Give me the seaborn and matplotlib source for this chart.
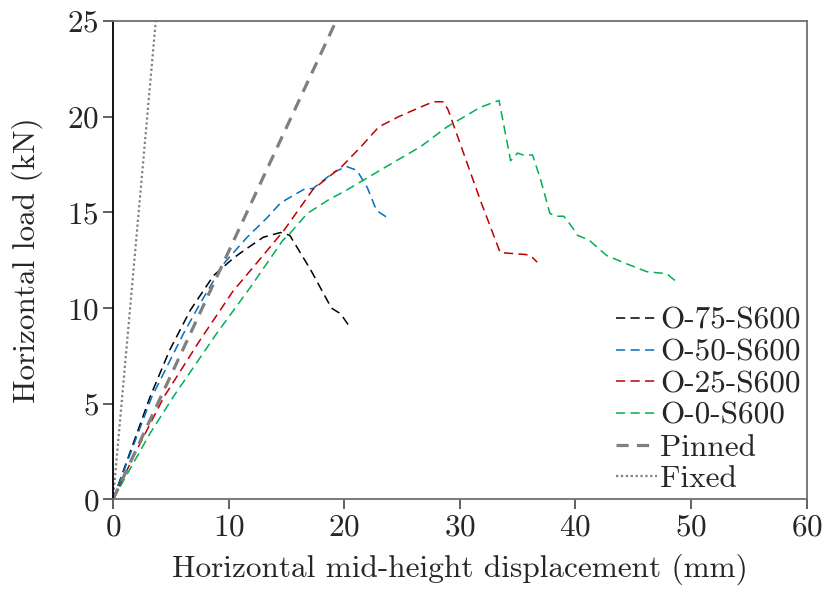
import matplotlib
matplotlib.use("Agg")
import matplotlib.pyplot as plt
import seaborn as sns
import pandas as pd

# ---- data ----
o75_x = [0, 3.2, 4.9, 6.7, 8.7, 10.4, 11.3, 13.0, 14.5, 15.3, 17.1, 18.9, 19.7, 20.5]
o75_y = [0, 5.35, 7.8, 9.9, 11.7, 12.6, 13.0, 13.7, 13.95, 13.8, 12.0, 10.0, 9.7, 9.0]

o50_x = [0, 3.35, 6.1, 7.5, 9.55, 11.6, 13.3, 14.5, 16.5, 17.3, 19.1, 20.2, 21.1, 22.0, 22.8, 23.8]
o50_y = [0, 5.35, 8.67, 10.2, 12.3, 13.7, 14.7, 15.5, 16.2, 16.25, 17.1, 17.4, 17.2, 16.3, 15.1, 14.7]

o25_x = [0, 1.9, 4.4, 7.5, 10.4, 12.15, 14.8, 17.3, 19.8, 21.4, 23.0, 24.7, 26.6, 27.7, 28.6,
         29.0, 31.8, 33.5, 35.7, 36.1, 36.7]
o25_y = [0, 2.4, 5.35, 8.3, 10.9, 12.15, 14.07, 16.2, 17.4, 18.4, 19.47, 20.0, 20.5, 20.78, 20.78,
         20.35, 15.6, 12.9, 12.8, 12.75, 12.4]

o0_x = [0, 3.2, 5.2, 9.0, 11.9, 14.7, 15.3, 16.8, 18.6, 20.2, 21.7, 24.6, 26.6, 28.9, 31.8, 33.4,
        34.4, 35.0, 35.5, 36.3, 37.0, 37.8, 38.3, 39.0, 39.7, 40.2, 41.2, 42.7, 43.3, 44.5, 46.2, 47.9, 48.9]
o0_y = [0, 3.45, 5.35, 8.7, 11.1, 13.55, 13.9, 14.94, 15.64, 16.16, 16.7, 17.73, 18.43, 19.47, 20.5, 20.85,
        17.7, 18.1, 18.0, 18.0, 16.7, 14.95, 14.8, 14.8, 14.25, 13.8, 13.55, 12.75, 12.6, 12.3, 11.9, 11.8, 11.3]

pinned_x = [0, 19.3]
pinned_y = [0, 25]

fixed_x = [0, 3.7]
fixed_y = [0, 25]

labels = ["O-75-S600", "O-50-S600", "O-25-S600", "O-0-S600", "Pinned", "Fixed"]

series = [(o75_x, o75_y), (o50_x, o50_y), (o25_x, o25_y), (o0_x, o0_y),
          (pinned_x, pinned_y), (fixed_x, fixed_y)]

frames = []
for lab, (xs, ys) in zip(labels, series):
    frames.append(pd.DataFrame({"x": xs, "y": ys, "series": lab, "order": range(len(xs))}))
df = pd.concat(frames, ignore_index=True)

# ---- styles ----
colors = {"O-75-S600": "#000000", "O-50-S600": "#0070c0", "O-25-S600": "#c00000",
          "O-0-S600": "#00b050", "Pinned": "#808080", "Fixed": "#808080"}
widths = {"O-75-S600": 1.1, "O-50-S600": 1.1, "O-25-S600": 1.1, "O-0-S600": 1.1,
          "Pinned": 2.3, "Fixed": 1.6}
styles = {"O-75-S600": (0, (6, 3.5)), "O-50-S600": (0, (6, 3.5)), "O-25-S600": (0, (6, 3.5)),
          "O-0-S600": (0, (6, 3.5)), "Pinned": (0, (3.8, 2.6)), "Fixed": (0, (1, 1.2))}

sns.set_theme(style="ticks")
plt.rcParams["font.family"] = ["cmr10", "DejaVu Serif"]
plt.rcParams["mathtext.fontset"] = "cm"
plt.rcParams["axes.formatter.use_mathtext"] = True
plt.rcParams["axes.unicode_minus"] = False

fig = plt.figure(figsize=(8.26, 5.89), dpi=100)
ax = fig.add_axes([0.1368, 0.152, 0.8396, 0.8123])

for lab in labels:
    sub = df[df["series"] == lab]
    sns.lineplot(data=sub, x="x", y="y", sort=False, estimator=None, ax=ax,
                 color=colors[lab], linewidth=widths[lab], linestyle=styles[lab], label=lab)

FS = 22.5
ax.set_xlim(0, 60)
ax.set_ylim(0, 25)
ax.set_xticks([0, 10, 20, 30, 40, 50, 60])
ax.set_yticks([0, 5, 10, 15, 20, 25])
ax.set_xlabel("Horizontal mid-height displacement (mm)", fontsize=FS, labelpad=9)
ax.set_ylabel("Horizontal load (kN)", fontsize=FS, labelpad=17)
ax.tick_params(axis="both", which="major", labelsize=FS, direction="out", length=7, width=1.3,
               color="#555555", left=True, bottom=True, pad=3)

for side in ["top", "right", "bottom"]:
    ax.spines[side].set_visible(True)
    ax.spines[side].set_color("#707070")
    ax.spines[side].set_linewidth(1.3)
ax.spines["left"].set_color("#000000")
ax.spines["left"].set_linewidth(1.3)

leg = ax.legend(loc="lower right", frameon=False, fontsize=FS, handlelength=1.3,
                handletextpad=0.1, labelspacing=0.12, borderpad=0.1, borderaxespad=0.1)

fig.savefig("out.png", dpi=100)
